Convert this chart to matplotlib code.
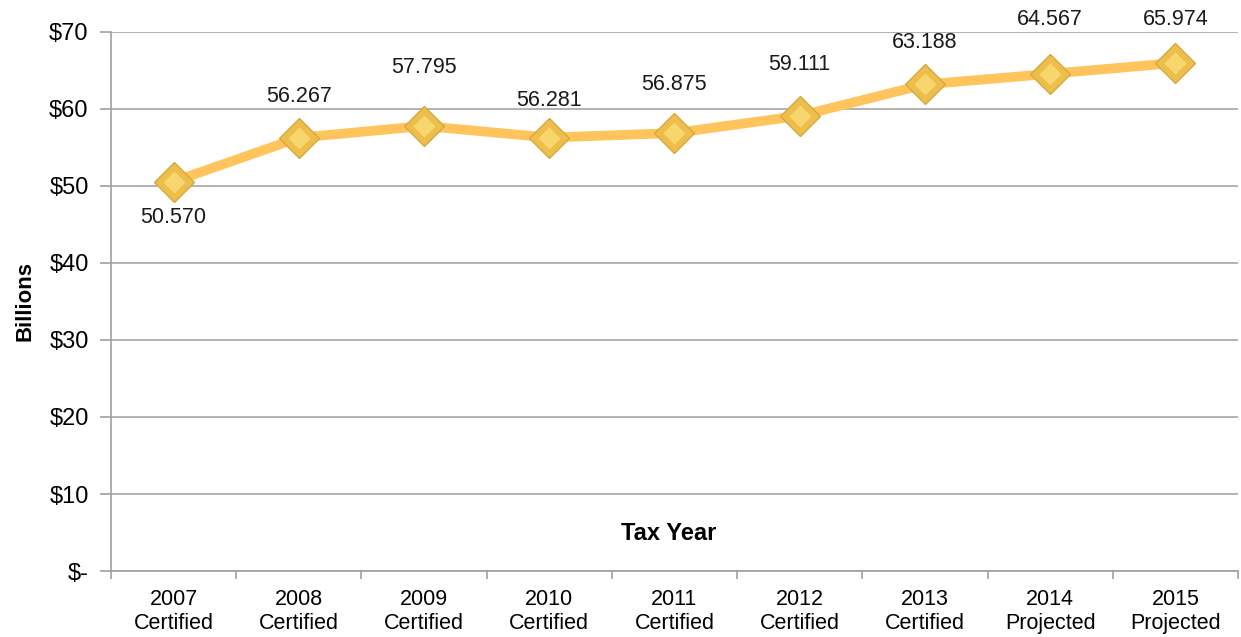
import matplotlib.pyplot as plt
import numpy as np

plt.rcParams['font.family'] = ['Liberation Sans', 'DejaVu Sans']

years = ["2007", "2008", "2009", "2010", "2011", "2012", "2013", "2014", "2015"]
status = ["Certified"] * 7 + ["Projected"] * 2
values = [50.570, 56.267, 57.795, 56.281, 56.875, 59.111, 63.188, 64.567, 65.974]
yticks = [0, 10, 20, 30, 40, 50, 60, 70]
ytick_labels = ["$-", "$10", "$20", "$30", "$40", "$50", "$60", "$70"]

# vertical offsets of the value labels (points)
label_dy = [-26, 30, 42, 27, 35, 37, 30, 39, 31]

fig = plt.figure(figsize=(12.41, 6.37), dpi=100)
ax = fig.add_axes([0.0894, 0.1036, 0.9082, 0.8462])

x = np.arange(len(values))
ax.plot(x, values, color="#FFC55C", lw=7, solid_capstyle="round", zorder=3)
ax.plot(x, values, ls="none", marker="D", ms=20, mfc="#EDBE4C", mec="#D6A93C",
        mew=1.0, zorder=4)
ax.plot(x, values, ls="none", marker="D", ms=11, mfc="#F8D66E", mec="none",
        zorder=5)

for xi, v, dy in zip(x, values, label_dy):
    ax.annotate(f"{v:.3f}", (xi, v), xytext=(0, dy), textcoords="offset points",
                ha="center", va="center", fontsize=15.5, color="#1a1a1a")

ax.set_xlim(-0.5, len(values) - 0.5)
ax.set_ylim(0, 70)
ax.set_yticks(yticks)
ax.set_yticklabels(ytick_labels, fontsize=17)
ax.set_xticks(x)
ax.set_xticklabels([f"{y}\n{s}" for y, s in zip(years, status)], fontsize=15.5,
                   linespacing=1.2)
ax.set_xticks(np.arange(-0.5, len(values)), minor=True)
ax.tick_params(axis="x", which="major", length=0, pad=13)
ax.tick_params(axis="x", which="minor", length=6, color="#A0A0A0", width=1.2)
ax.tick_params(axis="y", length=8, color="#A0A0A0", width=1.2, pad=8)

ax.grid(axis="y", color="#A6A6A6", lw=1.2)
ax.set_axisbelow(True)
for s in ["top", "right"]:
    ax.spines[s].set_visible(False)
ax.spines["left"].set_color("#A0A0A0")
ax.spines["left"].set_linewidth(1.2)
ax.spines["bottom"].set_color("#A0A0A0")
ax.spines["bottom"].set_linewidth(1.2)

ax.set_ylabel("Billions", fontsize=16, fontweight="bold", labelpad=10)
ax.text(3.95, 4.9, "Tax Year", ha="center", va="center", fontsize=17,
        fontweight="bold")

fig.savefig("out.png", dpi=100)
